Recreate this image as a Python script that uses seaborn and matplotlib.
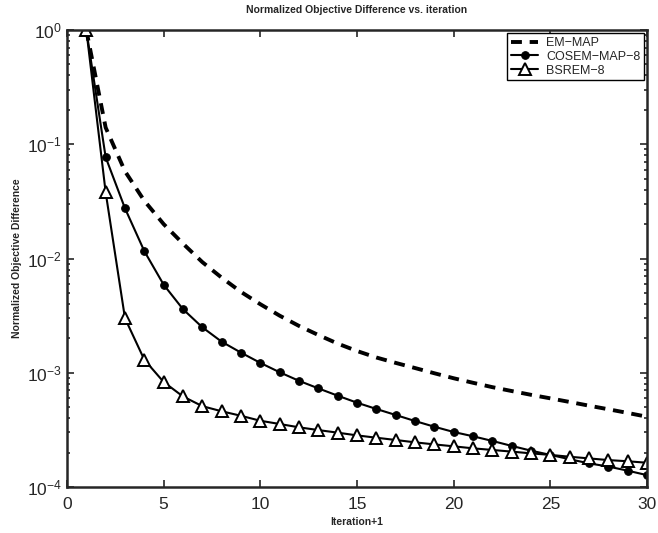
import numpy as np
import pandas as pd
import seaborn as sns
import matplotlib.pyplot as plt
from matplotlib.ticker import LogLocator, NullFormatter

iters = list(range(1, 31))

em_map = [1.0, 0.14, 0.058, 0.032, 0.020, 0.0135, 0.0093, 0.0068, 0.0051, 0.00398,
          0.00316, 0.00257, 0.00214, 0.0018, 0.00155, 0.00136, 0.00122, 0.0011, 0.00099, 0.000895,
          0.000817, 0.000748, 0.000692, 0.000641, 0.000597, 0.000555, 0.000515, 0.000479, 0.000445, 0.000412]

cosem_map_8 = [1.0, 0.077, 0.0275, 0.0116, 0.0059, 0.0036, 0.0025, 0.00187, 0.0015, 0.00122,
               0.00101, 0.00085, 0.00073, 0.00063, 0.000547, 0.000482, 0.000427, 0.000378, 0.000337, 0.000303,
               0.000278, 0.000253, 0.000229, 0.000208, 0.000191, 0.000175, 0.000161, 0.000151, 0.000139, 0.000127]

bsrem_8 = [1.0, 0.038, 0.0030, 0.0013, 0.00083, 0.00062, 0.00051, 0.00046, 0.00042, 0.00038,
           0.000356, 0.000333, 0.000315, 0.000299, 0.000283, 0.00027, 0.000258, 0.000246, 0.000236, 0.000227,
           0.000218, 0.000211, 0.000204, 0.000197, 0.000191, 0.000184, 0.000178, 0.000172, 0.000168, 0.000163]

labels = ["EM\u2212MAP", "COSEM\u2212MAP\u22128", "BSREM\u22128"]

df = pd.DataFrame({"iter": iters, "em": em_map, "cosem": cosem_map_8, "bsrem": bsrem_8})

sns.set_style("ticks")
plt.rcParams['font.family'] = ['Liberation Sans', 'DejaVu Sans']

fig = plt.figure(figsize=(6.58, 5.33), dpi=100)
ax = fig.add_axes([0.1018, 0.0863, 0.8815, 0.8574])

sns.lineplot(data=df, x="iter", y="em", ax=ax, color="black", linewidth=2.8,
             label=labels[0], linestyle=(0, (2.8, 2.0)))
sns.lineplot(data=df, x="iter", y="cosem", ax=ax, color="black", linewidth=1.5,
             marker="o", markersize=5.5, markerfacecolor="black", markeredgecolor="black",
             label=labels[1])
sns.lineplot(data=df, x="iter", y="bsrem", ax=ax, color="black", linewidth=1.5,
             marker="^", markersize=8, markerfacecolor="white", markeredgecolor="black",
             markeredgewidth=1.4, label=labels[2])

ax.set_yscale("log")
ax.set_xlim(0, 30)
ax.set_ylim(1e-4, 1)
ax.set_xticks([0, 5, 10, 15, 20, 25, 30])
ax.yaxis.set_minor_locator(LogLocator(base=10, subs=np.arange(2, 10)))
ax.yaxis.set_minor_formatter(NullFormatter())

ax.tick_params(which="both", direction="in", top=True, right=True, labelsize=12.5, width=1.2)
ax.tick_params(which="major", length=5)
ax.tick_params(which="minor", length=2.5)
ax.tick_params(axis="x", pad=7)
for s in ax.spines.values():
    s.set_linewidth(1.8)

ax.set_title("Normalized Objective Difference vs. iteration", fontsize=7.5, fontweight="bold", pad=12)
ax.set_xlabel("Iteration+1", fontsize=7.5, fontweight="bold", labelpad=4)
ax.set_ylabel("Normalized Objective Difference", fontsize=7.5, fontweight="bold", labelpad=4)

leg = ax.legend(loc="upper right", fontsize=9, frameon=True, fancybox=False,
                edgecolor="black", handlelength=2.2, borderaxespad=0.25,
                labelspacing=0.15, borderpad=0.3, handletextpad=0.6)
leg.get_frame().set_linewidth(1.0)
leg.get_frame().set_alpha(1)

fig.savefig("out.png", dpi=100)
